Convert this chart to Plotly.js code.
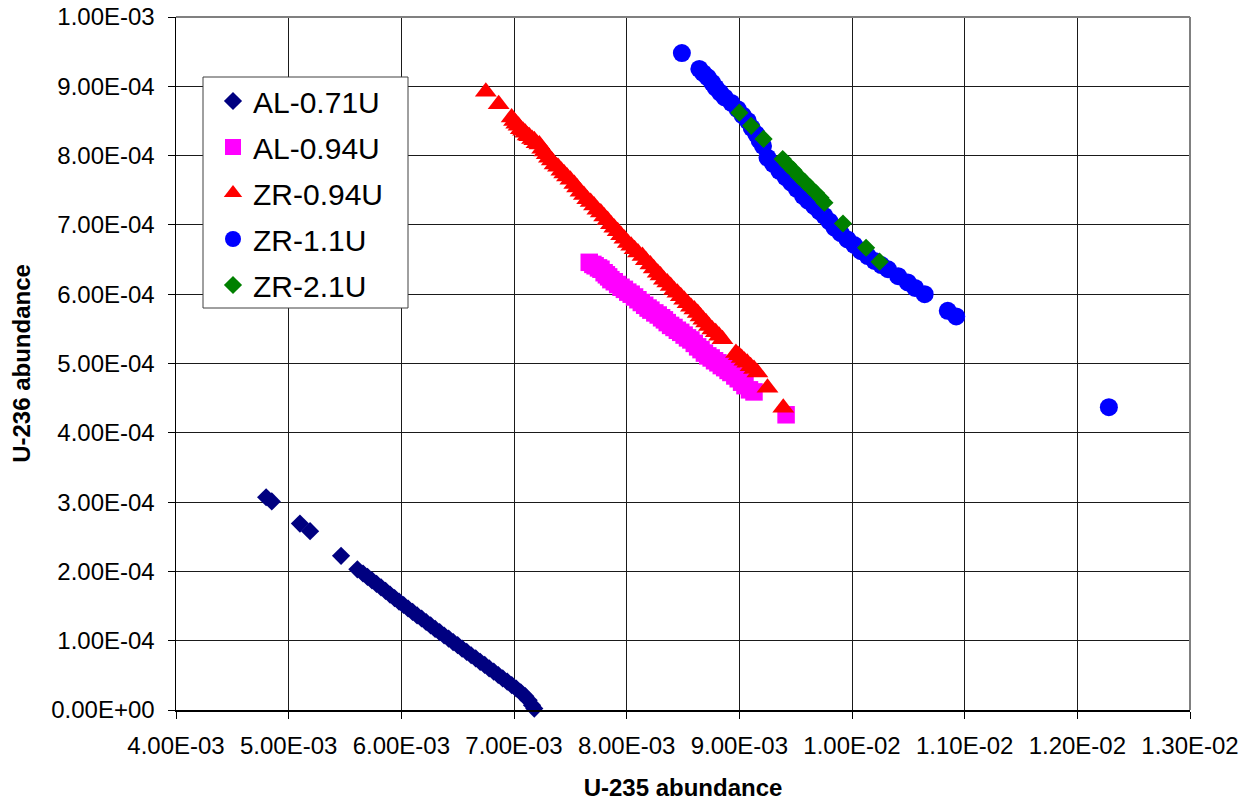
<!DOCTYPE html>
<html>
<head>
<meta charset="utf-8">
<script src="https://cdn.plot.ly/plotly-3.0.1.min.js"></script>
<style>html,body{margin:0;padding:0;background:#fff;}#chart{width:1252px;height:801px;}</style>
</head>
<body>
<div id="chart"></div>
<script>
// Series names
var seriesNames = ["AL-0.71U", "AL-0.94U", "ZR-0.94U", "ZR-1.1U", "ZR-2.1U"];

// AL-0.71U
var al071_x = [0.00480,0.00485,0.00510,0.00519,0.005465,0.00561,0.00566,0.00570,0.00574,0.00578,0.00582,0.00586,0.00590,0.00594,0.00598,0.00602,0.00606,0.00610,0.00614,0.00618,0.00622,0.00626,0.00630,0.00634,0.00638,0.00642,0.00646,0.00650,0.00654,0.00658,0.00662,0.00666,0.00670,0.00674,0.00678,0.00682,0.00686,0.00690,0.00694,0.00698,0.00702,0.00706,0.00710,0.00713,0.00716,0.00718];
var al071_y = [3.07e-4,3.01e-4,2.69e-4,2.58e-4,2.225e-4,2.03e-4,1.97e-4,1.92e-4,1.87e-4,1.82e-4,1.77e-4,1.72e-4,1.665e-4,1.615e-4,1.565e-4,1.515e-4,1.465e-4,1.415e-4,1.365e-4,1.32e-4,1.27e-4,1.22e-4,1.17e-4,1.125e-4,1.075e-4,1.03e-4,0.98e-4,0.935e-4,0.885e-4,0.84e-4,0.79e-4,0.745e-4,0.695e-4,0.65e-4,0.60e-4,0.555e-4,0.505e-4,0.455e-4,0.41e-4,0.36e-4,0.31e-4,0.255e-4,0.20e-4,0.14e-4,0.07e-4,0.02e-4];

// AL-0.94U
var al094_x = [0.007668,0.00770,0.00772,0.00775,0.007772,0.00780,0.00782,0.00784,0.00786,0.00789,0.00792,0.00795,0.00798,0.00801,0.00804,0.00807,0.00810,0.00813,0.00816,0.00819,0.008215,0.00825,0.00828,0.00831,0.008335,0.00836,0.00839,0.00842,0.00845,0.00848,0.00851,0.00854,0.00857,0.00860,0.00863,0.00866,0.00869,0.00872,0.00875,0.00878,0.00881,0.00884,0.00887,0.00890,0.008925,0.00896,0.00899,0.00902,0.00905,0.00909,0.00913,0.009415];
var al094_y = [6.46e-4,6.43e-4,6.41e-4,6.38e-4,6.36e-4,6.31e-4,6.28e-4,6.25e-4,6.21e-4,6.18e-4,6.14e-4,6.10e-4,6.07e-4,6.03e-4,6.00e-4,5.96e-4,5.92e-4,5.88e-4,5.84e-4,5.80e-4,5.77e-4,5.73e-4,5.70e-4,5.66e-4,5.63e-4,5.59e-4,5.55e-4,5.52e-4,5.48e-4,5.45e-4,5.41e-4,5.37e-4,5.34e-4,5.29e-4,5.24e-4,5.20e-4,5.15e-4,5.11e-4,5.08e-4,5.04e-4,5.01e-4,4.97e-4,4.94e-4,4.90e-4,4.87e-4,4.82e-4,4.78e-4,4.73e-4,4.68e-4,4.62e-4,4.59e-4,4.26e-4];

// ZR-0.94U
var zr094_x = [0.00675,0.006864,0.006979,0.00700,0.00702,0.00704,0.00706,0.00708,0.00710,0.00712,0.007135,0.00716,0.00718,0.00720,0.007225,0.00725,0.00727,0.00729,0.00731,0.007335,0.00736,0.00739,0.00742,0.007445,0.00747,0.00750,0.007535,0.00756,0.00759,0.00762,0.00765,0.00768,0.00771,0.00774,0.00777,0.00780,0.00783,0.00786,0.00789,0.00792,0.00795,0.00798,0.00801,0.00804,0.00807,0.00810,0.00814,0.00817,0.00821,0.00824,0.008275,0.00830,0.00833,0.00836,0.00839,0.00842,0.00845,0.00848,0.00851,0.00854,0.00857,0.00860,0.00863,0.008655,0.00868,0.008705,0.00873,0.00876,0.00879,0.00882,0.00885,0.00897,0.008995,0.00902,0.009045,0.00907,0.00910,0.00913,0.00916,0.00925,0.00939];
var zr094_y = [8.92e-4,8.74e-4,8.55e-4,8.50e-4,8.46e-4,8.43e-4,8.38e-4,8.36e-4,8.33e-4,8.29e-4,8.28e-4,8.24e-4,8.22e-4,8.18e-4,8.16e-4,8.10e-4,8.06e-4,8.02e-4,7.97e-4,7.93e-4,7.87e-4,7.84e-4,7.78e-4,7.74e-4,7.70e-4,7.65e-4,7.59e-4,7.54e-4,7.48e-4,7.43e-4,7.37e-4,7.33e-4,7.28e-4,7.22e-4,7.18e-4,7.12e-4,7.07e-4,7.01e-4,6.96e-4,6.91e-4,6.85e-4,6.80e-4,6.74e-4,6.70e-4,6.65e-4,6.60e-4,6.55e-4,6.49e-4,6.43e-4,6.37e-4,6.31e-4,6.27e-4,6.21e-4,6.17e-4,6.12e-4,6.06e-4,6.02e-4,5.97e-4,5.92e-4,5.87e-4,5.82e-4,5.78e-4,5.73e-4,5.68e-4,5.63e-4,5.59e-4,5.54e-4,5.49e-4,5.45e-4,5.40e-4,5.35e-4,5.15e-4,5.12e-4,5.08e-4,5.04e-4,5.01e-4,4.96e-4,4.92e-4,4.87e-4,4.65e-4,4.36e-4];

// ZR-1.1U
var zr11_x = [0.00849,0.008645,0.00868,0.00872,0.00876,0.00879,0.00883,0.00887,0.00893,0.008985,0.00903,0.009075,0.00911,0.00915,0.00918,0.00921,0.00925,0.00930,0.009355,0.00941,0.00946,0.00951,0.009565,0.00961,0.009665,0.00971,0.009755,0.00980,0.009845,0.00990,0.00996,0.01002,0.01008,0.01014,0.01020,0.01026,0.01032,0.01041,0.010495,0.01056,0.010645,0.01085,0.010925,0.01228];
var zr11_y = [9.48e-4,9.25e-4,9.19e-4,9.13e-4,9.05e-4,8.98e-4,8.91e-4,8.84e-4,8.76e-4,8.67e-4,8.58e-4,8.50e-4,8.40e-4,8.31e-4,8.22e-4,8.14e-4,7.97e-4,7.88e-4,7.78e-4,7.69e-4,7.61e-4,7.52e-4,7.42e-4,7.35e-4,7.27e-4,7.20e-4,7.13e-4,7.05e-4,6.96e-4,6.88e-4,6.79e-4,6.71e-4,6.62e-4,6.55e-4,6.48e-4,6.42e-4,6.36e-4,6.26e-4,6.17e-4,6.09e-4,6.00e-4,5.76e-4,5.68e-4,4.37e-4];

// ZR-2.1U
var zr21_x = [0.00900,0.009105,0.009215,0.009385,0.00943,0.00948,0.00953,0.00958,0.00963,0.00968,0.00972,0.009755,0.00992,0.010125,0.010245];
var zr21_y = [8.62e-4,8.43e-4,8.24e-4,7.95e-4,7.87e-4,7.79e-4,7.70e-4,7.62e-4,7.54e-4,7.46e-4,7.39e-4,7.32e-4,7.02e-4,6.67e-4,6.47e-4];

// Tick labels
var xTickVals = [0.004,0.005,0.006,0.007,0.008,0.009,0.010,0.011,0.012,0.013];
var xTickText = ["4.00E-03","5.00E-03","6.00E-03","7.00E-03","8.00E-03","9.00E-03","1.00E-02","1.10E-02","1.20E-02","1.30E-02"];
var yTickVals = [0,1e-4,2e-4,3e-4,4e-4,5e-4,6e-4,7e-4,8e-4,9e-4,1e-3];
var yTickText = ["0.00E+00","1.00E-04","2.00E-04","3.00E-04","4.00E-04","5.00E-04","6.00E-04","7.00E-04","8.00E-04","9.00E-04","1.00E-03"];

var FONT = "Liberation Sans, Arial, sans-serif";

function tr(name, xs, ys, symbol, color, size) {
  return {
    type: "scatter", mode: "markers", name: name, x: xs, y: ys,
    legendgroup: name,
    marker: {symbol: symbol, color: color, size: size, line: {width: 0}},
    cliponaxis: false
  };
}

var data = [
  tr(seriesNames[0], al071_x, al071_y, "diamond", "#000080", 14),
  tr(seriesNames[1], al094_x, al094_y, "square", "#FF00FF", 17.5),
  tr(seriesNames[2], zr094_x, zr094_y, "triangle-up", "#FF0000", 19),
  tr(seriesNames[3], zr11_x, zr11_y, "circle", "#0000FF", 18),
  tr(seriesNames[4], zr21_x, zr21_y, "diamond", "#008000", 14)
];

var px0 = 176, plotW = 1014, py0 = 710, plotH = 693;

var layout = {
  width: 1252, height: 801,
  margin: {l: 176, r: 62, t: 17, b: 91},
  paper_bgcolor: "#ffffff", plot_bgcolor: "#ffffff",
  font: {family: FONT, color: "#000000", size: 24},
  showlegend: true,
  legend: {
    x: (213 - px0) / plotW, y: (py0 - 75) / plotH, xanchor: "left", yanchor: "top",
    bgcolor: "rgba(0,0,0,0)", borderwidth: 0,
    font: {family: FONT, size: 30, color: "#000000"},
    tracegroupgap: 4
  },
  xaxis: {
    range: [0.004, 0.013], tickmode: "array", tickvals: xTickVals, ticktext: xTickText,
    showgrid: true, gridcolor: "#1a1a1a", gridwidth: 1,
    showline: true, linecolor: "#000000", linewidth: 1.5,
    ticks: "outside", ticklen: 7, tickcolor: "#000000", tickwidth: 1,
    ticklabelstandoff: 7,
    zeroline: false, automargin: false,
    tickfont: {family: FONT, size: 24, color: "#000000"},
    title: {text: "U-235 abundance", font: {family: FONT, size: 24, color: "#000000", weight: "bold"}, standoff: 26}
  },
  yaxis: {
    range: [0, 0.001], tickmode: "array", tickvals: yTickVals, ticktext: yTickText,
    showgrid: true, gridcolor: "#1a1a1a", gridwidth: 1,
    showline: true, linecolor: "#000000", linewidth: 1.5,
    ticks: "outside", ticklen: 7, tickcolor: "#000000", tickwidth: 1,
    ticklabelstandoff: 8,
    zeroline: false, automargin: false,
    tickfont: {family: FONT, size: 24, color: "#000000"},
    title: {text: "U-236 abundance", font: {family: FONT, size: 24, color: "#000000", weight: "bold"}, standoff: 14}
  },
  shapes: [
    {type: "line", xref: "paper", yref: "paper", x0: 0, x1: 1, y0: 1, y1: 1, line: {color: "#808080", width: 2}},
    {type: "line", xref: "paper", yref: "paper", x0: 1, x1: 1, y0: 0, y1: 1, line: {color: "#808080", width: 2}},
    {type: "rect", xref: "paper", yref: "paper", layer: "above",
     x0: (203 - px0) / plotW, x1: (408 - px0) / plotW, y0: (py0 - 308) / plotH, y1: (py0 - 77) / plotH,
     fillcolor: "rgba(255,255,255,1)", line: {color: "#404040", width: 1}}
  ]
};

Plotly.newPlot("chart", data, layout, {displayModeBar: false, staticPlot: true});
</script>
</body>
</html>
